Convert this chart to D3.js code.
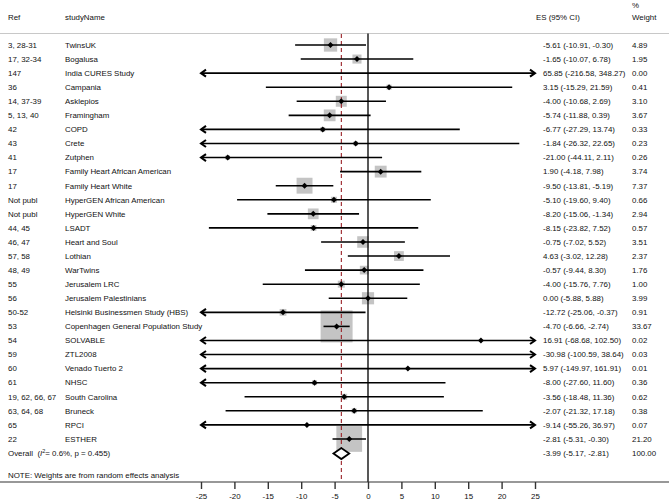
<!DOCTYPE html>
<html><head><meta charset="utf-8">
<script src="https://cdn.jsdelivr.net/npm/d3@7/dist/d3.min.js"></script>
<style>body{margin:0;background:#fff}svg{display:block}text{font-family:"Liberation Sans",Arial,sans-serif;font-size:7.9px;fill:#111}</style>
</head><body>
<script>
const refs = ["3, 28-31","17, 32-34","147","36","14, 37-39","5, 13, 40","42","43","41","17","17","Not publ","Not publ","44, 45","46, 47","57, 58","48, 49","55","56","50-52","53","54","59","60","61","19, 62, 66, 67","63, 64, 68","65","22"];
const studyNames = ["TwinsUK","Bogalusa","India CURES Study","Campania","Asklepios","Framingham","COPD","Crete","Zutphen","Family Heart African American","Family Heart White","HyperGEN African American","HyperGEN White","LSADT","Heart and Soul","Lothian","WarTwins","Jerusalem LRC","Jerusalem Palestinians","Helsinki Businessmen Study (HBS)","Copenhagen General Population Study","SOLVABLE","ZTL2008","Venado Tuerto 2","NHSC","South Carolina","Bruneck","RPCI","ESTHER"];
const es = [-5.61,-1.65,65.85,3.15,-4.00,-5.74,-6.77,-1.84,-21.00,1.90,-9.50,-5.10,-8.20,-8.15,-0.75,4.63,-0.57,-4.00,0.00,-12.72,-4.70,16.91,-30.98,5.97,-8.00,-3.56,-2.07,-9.14,-2.81];
const lo = [-10.91,-10.07,-216.58,-15.29,-10.68,-11.88,-27.29,-26.32,-44.11,-4.18,-13.81,-19.60,-15.06,-23.82,-7.02,-3.02,-9.44,-15.76,-5.88,-25.06,-6.66,-68.68,-100.59,-149.97,-27.60,-18.48,-21.32,-55.26,-5.31];
const hi = [-0.30,6.78,348.27,21.59,2.69,0.39,13.74,22.65,2.11,7.98,-5.19,9.40,-1.34,7.52,5.52,12.28,8.30,7.76,5.88,-0.37,-2.74,102.50,38.64,161.91,11.60,11.36,17.18,36.97,-0.30];
const weights = [4.89,1.95,0.00,0.41,3.10,3.67,0.33,0.23,0.26,3.74,7.37,0.66,2.94,0.57,3.51,2.37,1.76,1.00,3.99,0.91,33.67,0.02,0.03,0.01,0.36,0.62,0.38,0.07,21.20];
const overall = {es:-3.99, lo:-5.17, hi:-2.81, weight:100.00, i2:"0.6%", p:"0.455"};
const xTicks = [-25,-20,-15,-10,-5,0,5,10,15,20,25];

const W=669,H=500;
const svg=d3.select("body").append("svg").attr("width",W).attr("height",H);
const x=d3.scaleLinear().domain([-25,25]).range([201,535]);
const y=d3.scaleLinear().domain([0,1]).range([45,59.07]);
const f2=d3.format(".2f");
const fm=v=>f2(v).replace("−","-");
const n=studyNames.length;

// header
const hdr=svg.append("g");
hdr.append("text").attr("x",8).attr("y",20).text("Ref");
hdr.append("text").attr("x",65).attr("y",20).text("studyName");
hdr.append("text").attr("x",536).attr("y",20).text("ES (95% CI)");
hdr.append("text").attr("x",632).attr("y",7.5).text("%");
hdr.append("text").attr("x",632).attr("y",20).text("Weight");
svg.append("line").attr("x1",0).attr("x2",W).attr("y1",33.5).attr("y2",33.5).attr("stroke","#c8c8c8").attr("stroke-width",1);

// boxes
const side=w=>5.2*Math.sqrt(w)+1.8;
svg.append("g").selectAll("rect").data(d3.range(n).filter(i=>weights[i]>0.2)).join("rect")
  .attr("x",i=>x(es[i])-side(weights[i])/2).attr("y",i=>y(i)-side(weights[i])/2)
  .attr("width",i=>side(weights[i])).attr("height",i=>side(weights[i])).attr("fill","#c4c4c4");

// zero line & overall dashed line
svg.append("line").attr("x1",x(0)).attr("x2",x(0)).attr("y1",33.5).attr("y2",482).attr("stroke","#111").attr("stroke-width",1.4);
svg.append("line").attr("x1",x(overall.es)).attr("x2",x(overall.es)).attr("y1",34).attr("y2",482).attr("stroke","#9a2228").attr("stroke-width",1.1).attr("stroke-dasharray","4,3");

// CI lines with arrows
const ci=svg.append("g").attr("stroke","#000").attr("stroke-width",1.6).attr("fill","none");
d3.range(n).forEach(i=>{
  const a=Math.max(lo[i],-25), b=Math.min(hi[i],25), yy=y(i);
  ci.append("line").attr("x1",x(a)).attr("x2",x(b)).attr("y1",yy).attr("y2",yy);
  if(lo[i]<-25) ci.append("path").attr("d",`M${x(-25)+5},${yy-3.5}L${x(-25)},${yy}L${x(-25)+5},${yy+3.5}`).attr("stroke-width",2);
  if(hi[i]>25) ci.append("path").attr("d",`M${x(25)-5},${yy-3.5}L${x(25)},${yy}L${x(25)-5},${yy+3.5}`).attr("stroke-width",2);
});
// points
svg.append("g").selectAll("path").data(d3.range(n).filter(i=>es[i]>=-25&&es[i]<=25)).join("path")
  .attr("d",i=>{const cx=x(es[i]),cy=y(i),r=3;return `M${cx},${cy-r}L${cx+r},${cy}L${cx},${cy+r}L${cx-r},${cy}Z`;})
  .attr("fill","#000");

// overall diamond
const oy=y(n)+0.5;
svg.append("path").attr("d",`M${x(overall.lo)},${oy}L${x(overall.es)},${oy-5.5}L${x(overall.hi)},${oy}L${x(overall.es)},${oy+5.5}Z`)
  .attr("fill","#fff").attr("stroke","#000").attr("stroke-width",1.8);

// row text
const rows=svg.append("g");
d3.range(n).forEach(i=>{
  const yy=y(i)+2.8;
  rows.append("text").attr("x",8).attr("y",yy).text(refs[i]);
  rows.append("text").attr("x",65).attr("y",yy).text(studyNames[i]);
  rows.append("text").attr("x",543).attr("y",yy).text(`${fm(es[i])} (${fm(lo[i])}, ${fm(hi[i])})`);
  rows.append("text").attr("x",632).attr("y",yy).text(fm(weights[i]));
});
const ot=rows.append("text").attr("x",8).attr("y",oy+2.8).attr("xml:space","preserve");
ot.append("tspan").text("Overall  (");
ot.append("tspan").attr("font-style","italic").text("I");
ot.append("tspan").attr("dy",-3).attr("font-size","5.5px").text("2");
ot.append("tspan").attr("dy",3).text(`= ${overall.i2}, p = ${overall.p})`);
rows.append("text").attr("x",543).attr("y",oy+2.8).text(`${fm(overall.es)} (${fm(overall.lo)}, ${fm(overall.hi)})`);
rows.append("text").attr("x",632).attr("y",oy+2.8).text(fm(overall.weight));
rows.append("text").attr("x",8).attr("y",477.8).text("NOTE: Weights are from random effects analysis");

// axis
svg.append("line").attr("x1",0).attr("x2",W).attr("y1",482).attr("y2",482).attr("stroke","#333").attr("stroke-width",1.2);
const ax=svg.append("g").attr("transform","translate(0,482)")
  .call(d3.axisBottom(x).tickValues(xTicks).tickSize(7).tickPadding(4).tickFormat(d3.format("d")));
ax.select(".domain").remove();
ax.selectAll(".tick line").attr("stroke","#333").attr("stroke-width",1.4);
ax.selectAll(".tick text").style("font-size","7.9px").style("font-family","Liberation Sans, Arial, sans-serif").attr("fill","#111").text(d=>String(d).replace("−","-"));
</script>
</body></html>
